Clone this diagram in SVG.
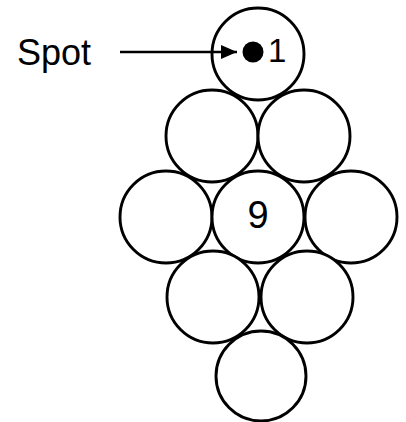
<svg xmlns="http://www.w3.org/2000/svg" width="406" height="422" viewBox="0 0 406 422">
<style>
.ball{fill:#fff;stroke:#000;stroke-width:2.9}
.t{font-family:"Liberation Sans",Arial,sans-serif;fill:#000}
</style>
<defs>
<marker id="ah" markerUnits="userSpaceOnUse" markerWidth="16" markerHeight="14" refX="16" refY="7" orient="auto">
<path d="M0,0 L16,7 L0,14 Z" fill="#000"/>
</marker>
</defs>
<rect width="406" height="422" fill="#fff"/>
<g id="ball1"><circle class="ball" cx="258" cy="54" r="46"/><circle cx="253" cy="52" r="10.5" fill="#000"/><text class="t" x="268" y="62" font-size="33">1</text></g>
<g id="ball2"><circle class="ball" cx="212" cy="136" r="46"/></g>
<g id="ball3"><circle class="ball" cx="304" cy="136" r="46"/></g>
<g id="ball4"><circle class="ball" cx="166" cy="217" r="46"/></g>
<g id="ball9"><circle class="ball" cx="258" cy="217" r="46"/><text class="t" x="258" y="228" font-size="38" text-anchor="middle">9</text></g>
<g id="ball6"><circle class="ball" cx="351" cy="217" r="46"/></g>
<g id="ball7"><circle class="ball" cx="213" cy="297" r="46"/></g>
<g id="ball8"><circle class="ball" cx="307" cy="297" r="46"/></g>
<g id="ball10"><circle class="ball" cx="261" cy="376" r="45"/></g>
<g id="spot-label"><text class="t" x="17" y="65" font-size="36">Spot</text></g>
<g id="connectors"><line x1="120" y1="52" x2="237" y2="52" stroke="#000" stroke-width="2.4" marker-end="url(#ah)"/></g>
</svg>
